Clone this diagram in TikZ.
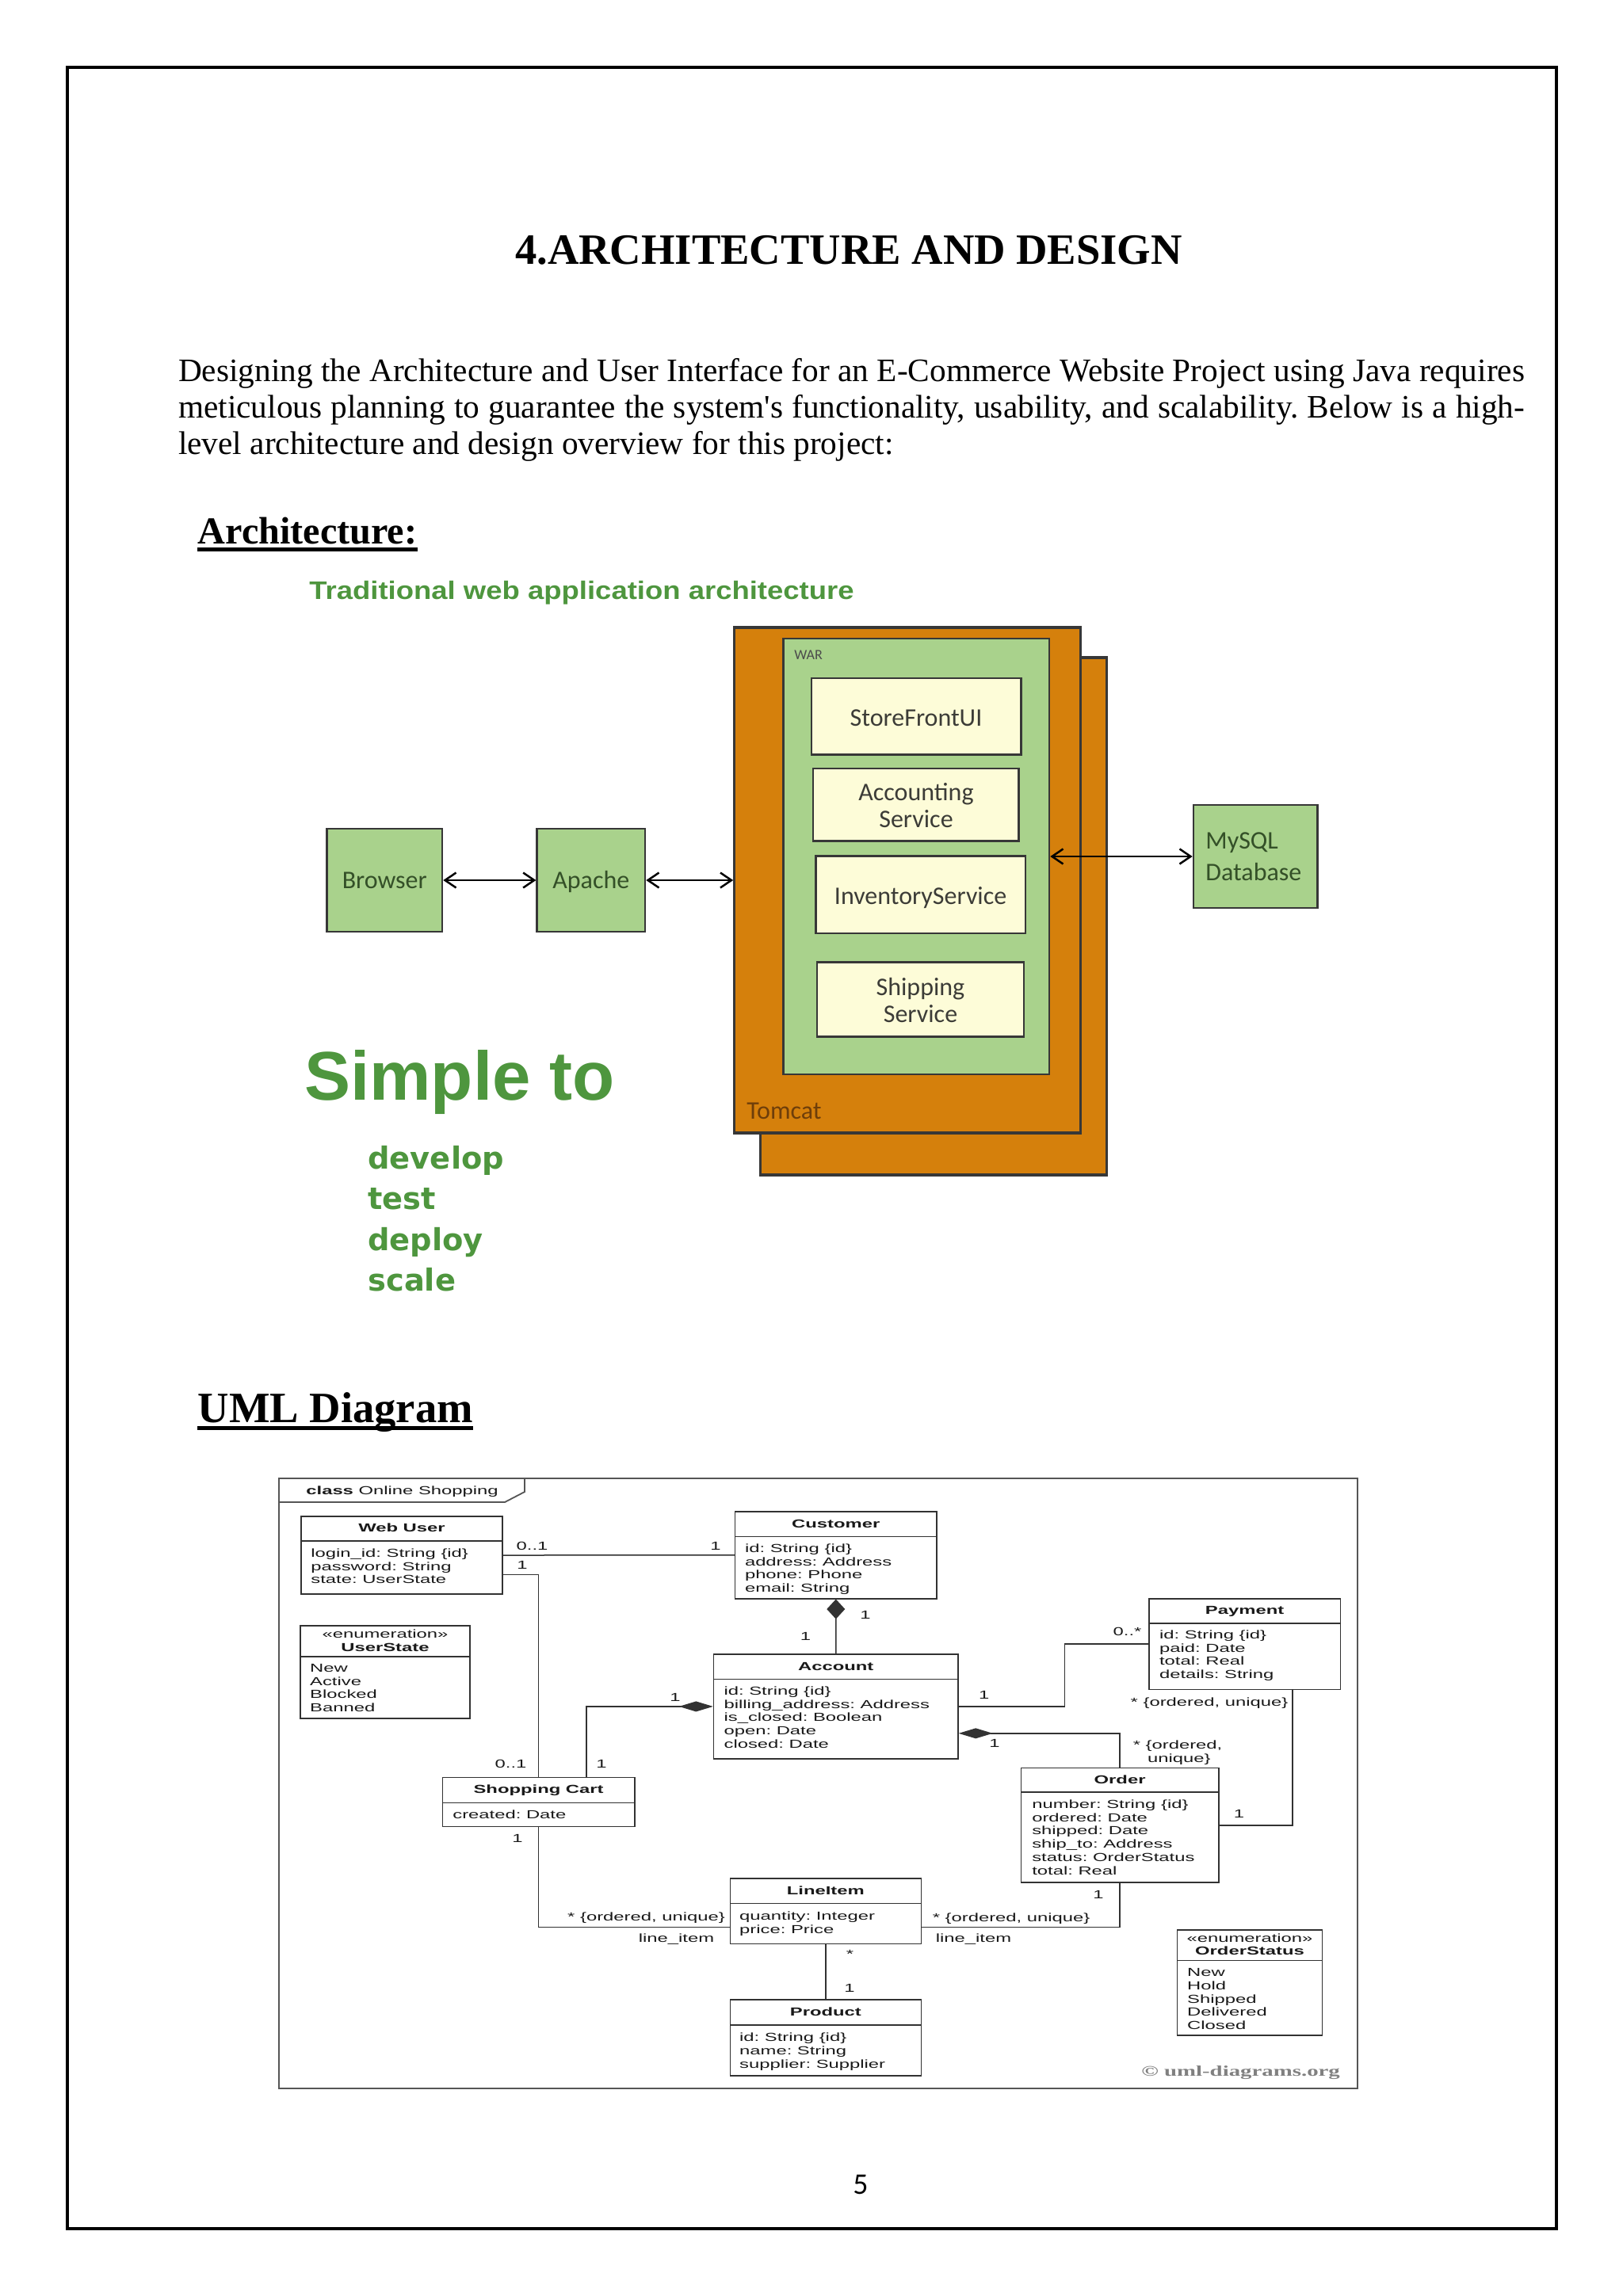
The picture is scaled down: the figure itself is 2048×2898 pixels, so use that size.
\documentclass[tikz,border=0pt]{standalone}
\usepackage{fontspec}
\usepackage{graphicx}
\setmainfont{Liberation Serif}[Ligatures=TeXOff]
\newfontfamily\umlf[FakeStretch=1.62]{Liberation Sans}
\newfontfamily\umlsf[FakeStretch=1.55]{Liberation Serif}
\newfontfamily\archf{Carlito}
\newfontfamily\grf{Liberation Sans}
\newfontfamily\dvf{DejaVu Sans}
\usetikzlibrary{arrows.meta,fit}

\definecolor{archgreen}{RGB}{169,210,140}
\definecolor{tomcatc}{RGB}{213,128,12}
\definecolor{cream}{RGB}{253,252,216}
\definecolor{txtgreen}{RGB}{78,150,62}
\definecolor{boxline}{RGB}{55,55,55}
\definecolor{gtext}{RGB}{52,80,40}
\definecolor{ctext}{RGB}{60,60,55}
\definecolor{umlline}{RGB}{50,50,50}
\definecolor{umltext}{RGB}{25,25,25}
\definecolor{frameline}{RGB}{85,85,85}

\tikzset{
  sbarb/.tip={Straight Barb[length=7pt,width=9.5pt]},
  comph/.tip={Diamond[length=21.5pt,width=6.5pt]},
  compv/.tip={Diamond[length=12.5pt,width=11.5pt]},
  abox/.style={draw=boxline, line width=1.3pt, inner sep=0pt},
  gbox/.style={abox, fill=archgreen},
  cbox/.style={abox, fill=cream},
  atext/.style={font=\archf\fontsize{16pt}{17pt}\selectfont, inner sep=0pt, text height=10.3pt, text depth=0pt},
  gtxt/.style={atext, text=gtext},
  ctxt/.style={atext, text=ctext},
  aarrow/.style={sbarb-sbarb, line width=1.25pt, black},
  ubox/.style={draw=umlline, line width=0.8pt, inner sep=0pt},
  uline/.style={draw=umlline, line width=0.75pt},
  utxt/.style={font=\umlf\fontsize{7.35pt}{8.4pt}\selectfont, text=umltext, inner sep=0pt, text height=5.25pt, text depth=0pt},
  utitle/.style={utxt, font=\umlf\bfseries\fontsize{7.35pt}{8.4pt}\selectfont},
  bodytxt/.style={anchor=base west, inner sep=0pt, font=\fontsize{20.65pt}{23pt}\selectfont},
  bigtxt/.style={anchor=base west, inner sep=0, font=\dvf\bfseries\fontsize{19.2pt}{22pt}\selectfont, text=txtgreen},
}

\newcommand{\attrs}[4]{%
  \foreach \attr [count=\i] in {#4} {\node[utxt, anchor=west] (#1-\i) at (#2, {#3+(\i-1)*16.8}) {\attr};}}

\begin{document}
\frenchspacing
\begin{tikzpicture}[x=0.5pt,y=-0.5pt]
\useasboundingbox (0,0) rectangle (2048,2898);
\fill[white] (0,0) rectangle (2048,2898);
% page border
\draw[line width=2.2pt] (85,85) rectangle (1964,2813);

% headings and body text
\node[anchor=base, inner sep=0, font=\bfseries\fontsize{27.3pt}{30pt}\selectfont] (title) at (1071,333) {4.ARCHITECTURE AND DESIGN};
\node[bodytxt] (p1) at (224.7,481)
  {\makebox[849.5pt][s]{Designing the Architecture and User Interface for an E-Commerce Website Project using Java requires}};
\node[bodytxt] (p2) at (224.7,527)
  {\makebox[849.5pt][s]{meticulous planning to guarantee the system's functionality, usability, and scalability. Below is a high-}};
\node[bodytxt] (p3) at (224.7,573)
  {level architecture and design overview for this project:};
\node[anchor=base west, inner sep=0, font=\bfseries\fontsize{24.1pt}{26pt}\selectfont] (h1) at (249.3,686.7) {Architecture:};
\draw[line width=2.4pt] ([yshift=-3.3pt]h1.base west) -- ([yshift=-3.3pt]h1.base east);
\node[anchor=base west, inner sep=0, font=\bfseries\fontsize{27.3pt}{30pt}\selectfont] (h2) at (249.3,1795) {UML Diagram};
\draw[line width=2.5pt] ([yshift=-3.75pt]h2.base west) -- ([yshift=-3.75pt]h2.base east);

% ===== Architecture picture =====
\node[anchor=west, inner sep=0, font=\grf\bfseries\fontsize{16pt}{18pt}\selectfont, text=txtgreen] (trad) at (390,748)
  {\scalebox{1.14}[1]{Traditional web application architecture}};

\node[abox, fill=tomcatc, line width=1.6pt, fit={(959.8,830) (1396.4,1483)}] (tomcat2) {};
\node[abox, fill=tomcatc, line width=1.6pt, fit={(926.8,792) (1363.4,1430)}] (tomcat) {};
\node[gbox, fit={(988.4,806) (1324,1356)}] (war) {};
\node[anchor=west, inner sep=0, font=\archf\fontsize{9pt}{10pt}\selectfont, text=black!70] (warl) at (1002,827) {WAR};
\node[cbox, fit={(1024,856) (1288.4,952.7)}] (sf) {};
\node[ctxt] (sf-t) at (1156,906) {StoreFrontUI};
\node[cbox, fit={(1026,970) (1285.7,1061.4)}] (acc) {};
\node[ctxt] (acc-t1) at (1156,1000) {Accounting};
\node[ctxt] (acc-t2) at (1156,1034) {Service};
\node[cbox, fit={(1029.5,1080.7) (1293.8,1177.8)}] (inv) {};
\node[ctxt] (inv-t) at (1161.6,1131) {InventoryService};
\node[cbox, fit={(1031,1214.5) (1292,1308.4)}] (ship) {};
\node[ctxt] (ship-t1) at (1161.5,1246) {Shipping};
\node[ctxt] (ship-t2) at (1161.5,1280) {Service};
\node[anchor=west, inner sep=0, font=\archf\fontsize{16pt}{17pt}\selectfont, text={rgb,255:red,110;green,62;blue,10}] (tcl) at (942,1402) {Tomcat};

\node[gbox, fit={(412.5,1046) (558,1176)}] (browser) {};
\node[gtxt] (browser-t) at (485.3,1111) {Browser};
\node[gbox, fit={(677.7,1046) (814,1176)}] (apache) {};
\node[gtxt] (apache-t) at (745.8,1111) {Apache};
\node[gbox, fit={(1506,1016) (1662.7,1146)}] (mysql) {};
\node[gtxt, anchor=west] (mysql-t1) at (1521,1061) {MySQL};
\node[gtxt, anchor=west] (mysql-t2) at (1521,1101) {Database};

\draw[aarrow] (browser.east) -- (apache.west);
\draw[aarrow] (apache.east) -- (tomcat.west);
\draw[aarrow] (war.east) -- (mysql.west);

\node[anchor=base west, inner sep=0, font=\grf\bfseries\fontsize{43.5pt}{48pt}\selectfont, text=txtgreen] (simple) at (384,1388) {Simple to};
\node[bigtxt] (s1) at (464,1475) {develop};
\node[bigtxt] (s2) at (464,1526.5) {test};
\node[bigtxt] (s3) at (464,1578) {deploy};
\node[bigtxt] (s4) at (464,1629) {scale};

% ===== UML diagram =====
\draw[draw=frameline, line width=1.3pt] (352,1866) rectangle (1713,2636);
\draw[draw=frameline, line width=0.9pt] (352,1896) -- (637,1896) -- (662,1883) -- (662,1866);
\node[utxt, anchor=west] (tabl) at (386,1881) {\textbf{class} Online Shopping};

% Web User
\node[ubox, fit={(380,1914) (634,2012)}] (webuser) {};
\draw[uline] (380,1945) -- (634,1945);
\node[utitle] (webuser-t) at (507,1928.6) {Web User};
\attrs{webuser}{392}{1960}{login\_id: String \{id\}, password: String, state: UserState}

% Customer
\node[ubox, fit={(927.6,1908) (1182,2017.7)}] (customer) {};
\draw[uline] (927.6,1939.4) -- (1182,1939.4);
\node[utitle] (customer-t) at (1054.8,1923) {Customer};
\attrs{customer}{939.6}{1954}{id: String \{id\}, address: Address, phone: Phone, email: String}

% UserState
\node[ubox, fit={(378.8,2051.7) (593,2169)}] (userstate) {};
\draw[uline] (378.8,2091) -- (593,2091);
\node[utxt] (userstate-s) at (486,2062) {«enumeration»};
\node[utitle] (userstate-t) at (486,2079) {UserState};
\attrs{userstate}{390.8}{2105}{New, Active, Blocked, Banned}

% Account
\node[ubox, fit={(900.6,2087.8) (1208.9,2220)}] (account) {};
\draw[uline] (900.6,2119.4) -- (1208.9,2119.4);
\node[utitle] (account-t) at (1054.75,2103) {Account};
\attrs{account}{913.2}{2134}{id: String \{id\}, billing\_address: Address, is\_closed: Boolean, open: Date, closed: Date}

% Payment
\node[ubox, fit={(1449.7,2017.7) (1691.5,2132.4)}] (payment) {};
\draw[uline] (1449.7,2049.2) -- (1691.5,2049.2);
\node[utitle] (payment-t) at (1570.6,2032.4) {Payment};
\attrs{payment}{1462.7}{2063}{id: String \{id\}, paid: Date, total: Real, details: String}

% Shopping Cart
\node[ubox, fit={(558.5,2243.5) (800.7,2305.6)}] (cart) {};
\draw[uline] (558.5,2275.5) -- (800.7,2275.5);
\node[utitle] (cart-t) at (679.6,2258.6) {Shopping Cart};
\attrs{cart}{571}{2290}{created: Date}

% Order
\node[ubox, fit={(1288.5,2231.6) (1537.7,2376)}] (order) {};
\draw[uline] (1288.5,2262) -- (1537.7,2262);
\node[utitle] (order-t) at (1413.1,2246) {Order};
\attrs{order}{1301.9}{2277}{number: String \{id\}, ordered: Date, shipped: Date, ship\_to: Address, status: OrderStatus, total: Real}

% LineItem
\node[ubox, fit={(921.3,2370.7) (1162.4,2453.3)}] (lineitem) {};
\draw[uline] (921.3,2402.7) -- (1162.4,2402.7);
\node[utitle] (lineitem-t) at (1041.85,2386) {LineItem};
\attrs{lineitem}{932.8}{2418.3}{quantity: Integer, price: Price}

% Product
\node[ubox, fit={(921.3,2524) (1162.4,2620)}] (product) {};
\draw[uline] (921.3,2556) -- (1162.4,2556);
\node[utitle] (product-t) at (1041.85,2539) {Product};
\attrs{product}{932.8}{2571.3}{id: String \{id\}, name: String, supplier: Supplier}

% OrderStatus
\node[ubox, fit={(1485.4,2435.7) (1668.6,2569)}] (orderstatus) {};
\draw[uline] (1485.4,2474.3) -- (1668.6,2474.3);
\node[utxt] (orderstatus-s) at (1577,2446.7) {«enumeration»};
\node[utitle] (orderstatus-t) at (1577,2462.7) {OrderStatus};
\attrs{orderstatus}{1497.8}{2489.3}{New, Hold, Shipped, Delivered, Closed}

% connectors
\draw[uline] (webuser.east) -- (customer.west);
\draw[uline] ([yshift=-12.25pt]webuser.east) -| (cart.north);
\draw[uline] (cart.south) |- ([yshift=-10.35pt]lineitem.west);
\draw[uline, compv-] (customer.south) -- (account.north);
\draw[uline, comph-] (account.west) -| ([xshift=30.2pt]cart.north);
\draw[uline] (account.east) -- ++(134,0) |- (payment.west);
\draw[uline, comph-] ([yshift=-16.95pt]account.east) -| (order.north);
\draw[uline] ([xshift=30.2pt]payment.south) |- (order.east);
\draw[uline] (order.south) |- ([yshift=-10.35pt]lineitem.east);
\draw[uline] (lineitem.south) -- (product.north);

% multiplicities
\node[utxt] (m1) at (671.5,1951.7) {0..1};
\node[utxt] (m2) at (903,1951.7) {1};
\node[utxt] (m3) at (659,1975) {1};
\node[utxt] (m4) at (644.6,2226.4) {0..1};
\node[utxt] (m5) at (759,2226) {1};
\node[utxt] (m6) at (852,2142) {1};
\node[utxt] (m7) at (1092,2038) {1};
\node[utxt] (m8) at (1016.5,2065.7) {1};
\node[utxt] (m9) at (653,2320) {1};
\node[utxt, anchor=west] (m10) at (715.8,2419) {* \{ordered, unique\}};
\node[utxt] (m11) at (853.5,2446.7) {line\_item};
\node[utxt] (m12) at (1072.5,2466.7) {*};
\node[utxt] (m13) at (1072,2509) {1};
\node[utxt] (m14) at (1386,2391.7) {1};
\node[utxt, anchor=west] (m15) at (1176.4,2420) {* \{ordered, unique\}};
\node[utxt] (m16) at (1228.5,2446.7) {line\_item};
\node[utxt] (m17) at (1241.8,2139.7) {1};
\node[utxt] (m18) at (1422.5,2059.4) {0..*};
\node[utxt] (m19) at (1255,2200.7) {1};
\node[utxt, anchor=west] (m20) at (1429.4,2202.5) {* \{ordered,};
\node[utxt, anchor=west] (m21) at (1447.7,2219) {unique\}};
\node[utxt, anchor=west] (m22) at (1426.3,2148) {* \{ordered, unique\}};
\node[utxt] (m23) at (1563.4,2289) {1};

\node[anchor=east, inner sep=0, font=\umlsf\bfseries\fontsize{9.3pt}{10pt}\selectfont, text=black!50] (copy) at (1691.3,2615.7) {© uml-diagrams.org};

% page number
\node[anchor=base, inner sep=0, font=\archf\fontsize{18.9pt}{20pt}\selectfont] (pg) at (1086,2769) {5};
\end{tikzpicture}
\end{document}
